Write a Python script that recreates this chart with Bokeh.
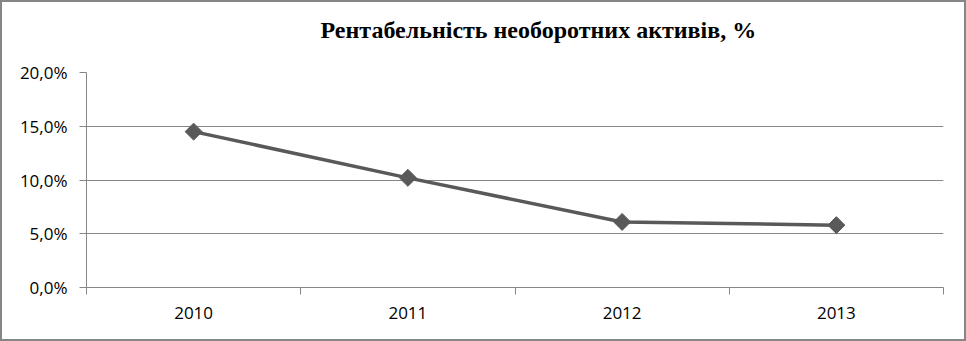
import math
from bokeh.plotting import figure
from bokeh.models import FixedTicker, Range1d, ColumnDataSource, Title
from bokeh.embed import file_html
from bokeh.resources import INLINE

# ---- data ----
years = ["2010", "2011", "2012", "2013"]
values = [14.5, 10.2, 6.1, 5.8]          # %
y_ticks = [0, 5, 10, 15, 20]
y_tick_labels = ["0,0%", "5,0%", "10,0%", "15,0%", "20,0%"]
title_text = "Рентабельність необоротних активів, %"

# ---- positions from categories ----
xs = [i + 0.5 for i in range(len(years))]
src = ColumnDataSource(dict(x=xs, y=values, year=years))

GRAY = "#868686"
LINE = "#595959"

p = figure(width=966, height=341, output_backend="svg", toolbar_location=None,
           x_range=Range1d(0, len(years)), y_range=Range1d(0, 20),
           min_border_left=84, min_border_right=25, min_border_top=0,
           min_border_bottom=56,
           styles={"border": "2px solid " + GRAY})

p.outline_line_color = None
p.background_fill_color = "white"
p.border_fill_color = "white"
p.title.text = ""
p.title.standoff = 0

# spacer between title and frame, then the title itself
spacer = Title(text=" ", text_font_size="1px", standoff=15)
p.add_layout(spacer, "above")
main_title = Title(text=title_text, text_font="Liberation Serif",
                   text_font_style="bold", text_font_size="24px",
                   text_color="black", align="left", offset=234, standoff=24)
p.add_layout(main_title, "above")

# x axis: labels at category centres, tick marks on boundaries
p.xaxis.ticker = FixedTicker(ticks=xs, minor_ticks=list(range(len(years) + 1)))
p.xaxis.major_label_overrides = {x: yr for x, yr in zip(xs, years)}
p.xaxis.major_tick_line_color = None
p.xaxis.minor_tick_line_color = GRAY
p.xaxis.minor_tick_in = 0
p.xaxis.minor_tick_out = 7
p.xaxis.axis_line_color = GRAY
p.xaxis.major_label_text_font = "Open Sans"
p.xaxis.major_label_text_font_size = "17px"
p.xaxis.major_label_text_color = "black"
p.xaxis.major_label_standoff = 12

# y axis
p.yaxis.ticker = FixedTicker(ticks=y_ticks, minor_ticks=[])
p.yaxis.major_label_overrides = {t: l for t, l in zip(y_ticks, y_tick_labels)}
p.yaxis.major_tick_in = 0
p.yaxis.major_tick_out = 7
p.yaxis.major_tick_line_color = GRAY
p.yaxis.axis_line_color = GRAY
p.yaxis.major_label_text_font = "Open Sans"
p.yaxis.major_label_text_font_size = "17px"
p.yaxis.major_label_text_color = "black"
p.yaxis.major_label_standoff = 12

p.xgrid.grid_line_color = None
p.ygrid.ticker = FixedTicker(ticks=y_ticks)
p.ygrid.grid_line_color = GRAY
p.ygrid.grid_line_width = 1

p.line("x", "y", source=src, line_color=LINE, line_width=3.5)
p.scatter("x", "y", source=src, marker="square", size=12, angle=math.pi / 4,
          fill_color=LINE, line_color=LINE)

open("out.html", "w").write(file_html(p, INLINE))
